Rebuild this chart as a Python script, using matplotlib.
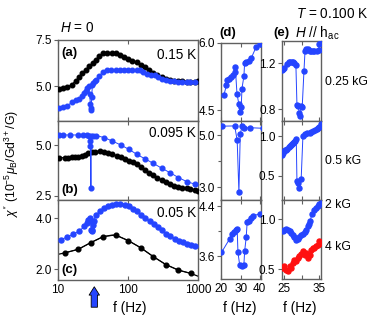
import matplotlib
matplotlib.use('Agg')
import matplotlib.pyplot as plt
from matplotlib.ticker import NullLocator, FixedLocator
from matplotlib.patches import FancyArrowPatch

plt.rcParams['font.family'] = ['Liberation Sans', 'DejaVu Sans']
plt.rcParams['mathtext.fontset'] = 'custom'
plt.rcParams['mathtext.rm'] = 'Liberation Sans'
plt.rcParams['mathtext.it'] = 'Liberation Sans:italic'
plt.rcParams['mathtext.bf'] = 'Liberation Sans:bold'

# ---------------- data ----------------
# panel (a) 0.15 K
a_black_f = [10.3, 11.9, 13.6, 15.7, 17.9, 20.0, 22.3, 24.8, 27.7, 31.3, 34.5, 38.5, 44.4, 50.7, 58.4, 66.7,
             76.9, 87.7, 101, 115, 133, 152, 175, 200, 230, 262, 303, 345, 398, 454, 524, 597, 689, 769, 906, 1000]
a_black_v = [4.82, 4.89, 4.95, 5.07, 5.29, 5.47, 5.69, 5.89, 6.07, 6.25, 6.43, 6.61, 6.78, 6.80, 6.81, 6.79,
             6.70, 6.58, 6.49, 6.38, 6.29, 6.16, 6.01, 5.85, 5.72, 5.58, 5.47, 5.36, 5.31, 5.29, 5.25, 5.25,
             5.23, 5.23, 5.23, 5.25]
a_blue_f = [10.3, 11.9, 13.6, 15.7, 17.9, 20.0, 22.0, 23.5, 25.0, 26.3, 27.5, 28.3, 29.0, 29.5, 29.8, 30.3,
            31.0, 32.0, 33.5, 35.0, 38.5, 44.0, 50.0, 58.0, 67.0, 77.0, 88.0, 101, 115, 133, 150, 165, 185,
            210, 240, 270, 303, 345, 398, 454, 524, 597, 689, 769, 906]
a_blue_v = [3.80, 3.85, 3.93, 4.11, 4.22, 4.30, 4.45, 4.60, 4.75, 4.90, 5.00, 4.55, 4.05, 3.80, 3.70, 4.40,
            5.05, 5.15, 5.25, 5.35, 5.55, 5.75, 5.85, 5.88, 5.87, 5.88, 5.88, 5.88, 5.88, 5.89, 5.85, 5.76,
            5.67, 5.62, 5.58, 5.49, 5.40, 5.31, 5.26, 5.25, 5.24, 5.23, 5.22, 5.22, 5.22]

# panel (b) 0.095 K
b_black_f = [10.5, 12.6, 14.1, 15.7, 17.5, 19.5, 21.8, 24.3, 27.1, 30.3, 33.8, 39.8, 45.9, 52.4, 59.7, 68.9,
             78.5, 90.6, 103, 117, 133, 152, 175, 200, 230, 262, 303, 345, 398, 454, 524, 597, 689, 769, 906, 1000]
b_black_v = [4.39, 4.39, 4.39, 4.41, 4.41, 4.42, 4.46, 4.52, 4.62, 4.65, 4.69, 4.72, 4.69, 4.61, 4.56, 4.49,
             4.42, 4.33, 4.23, 4.16, 4.08, 3.95, 3.78, 3.65, 3.54, 3.41, 3.29, 3.18, 3.09, 3.01, 2.96, 2.91,
             2.88, 2.85, 2.80, 2.75]
b_blue_f = [10.5, 11.9, 14.8, 19.5, 23.0, 26.0, 27.5, 28.5, 29.0, 29.5, 30.0, 31.6, 35.3, 45.9, 59.7, 78.5,
            103, 133, 175, 230, 303, 398, 524, 689, 906]
b_blue_v = [5.52, 5.51, 5.51, 5.51, 5.53, 5.52, 5.45, 5.20, 4.95, 2.90, 5.45, 5.48, 5.48, 5.38, 5.21, 5.02,
            4.80, 4.56, 4.33, 4.11, 3.87, 3.65, 3.41, 3.21, 3.08]

# panel (c) 0.05 K
c_black_f = [12.6, 19.5, 29.3, 44.4, 67.5, 101, 152, 230, 346, 523, 787]
c_black_v = [2.64, 2.78, 3.04, 3.28, 3.34, 3.12, 2.84, 2.49, 2.18, 1.96, 1.83]
c_fit_f = [10, 12.6, 19.5, 29.3, 44.4, 60, 67.5, 101, 152, 230, 346, 523, 787, 1000]
c_fit_v = [2.58, 2.64, 2.78, 3.04, 3.28, 3.34, 3.33, 3.12, 2.84, 2.49, 2.18, 1.96, 1.83, 1.72]
c_blue_f = [10.9, 13.6, 16.6, 20.0, 23.8, 25.7, 27.1, 28.6, 29.3, 29.8, 30.3, 31.0, 31.8, 32.5, 35.3, 39.4,
            45.4, 51.8, 59.0, 68.0, 77.6, 89.6, 102, 118, 134, 155, 177, 204, 233, 268, 306, 353, 403, 464,
            530, 611, 697, 803, 916]
c_blue_v = [3.16, 3.26, 3.38, 3.49, 3.68, 3.81, 3.95, 4.01, 3.88, 3.55, 3.49, 3.55, 3.75, 3.91, 4.14, 4.27,
            4.41, 4.47, 4.54, 4.56, 4.56, 4.54, 4.47, 4.38, 4.27, 4.14, 4.01, 3.88, 3.78, 3.64, 3.53, 3.39,
            3.29, 3.20, 3.12, 3.05, 2.99, 2.96, 2.89]

# panel (d) T = 0.100 K, zero field sweeps around 30 Hz
d1_f = [21.2, 22.6, 22.9, 24.0, 25.2, 26.0, 26.9, 27.2, 28.1, 29.1, 29.6, 30.3, 30.7, 31.7, 32.1, 32.9,
        34.6, 35.5, 38.0, 40.3]
d1_v = [4.83, 5.05, 5.16, 5.20, 5.23, 5.28, 5.35, 5.46, 4.86, 4.63, 4.46, 4.56, 4.98, 5.25, 5.55, 5.57,
        5.60, 5.65, 5.89, 5.97]
d2_f = [20.2, 26.9, 28.2, 29.1, 29.8, 30.7, 31.7, 35.0, 41.5]
d2_v = [5.35, 5.36, 4.80, 2.79, 5.03, 5.35, 5.29, 5.29, 5.27]
d3_f = [20.0, 24.3, 25.5, 26.5, 27.7, 28.2, 28.6, 29.5, 30.7, 31.7, 32.1, 32.9, 33.4, 34.3, 35.5, 36.7, 40.3]
d3_v = [3.66, 3.88, 3.95, 3.98, 4.02, 4.03, 3.66, 3.46, 3.45, 3.46, 3.68, 3.90, 4.14, 4.17, 4.21, 4.25, 4.28]

# panel (e) field parallel to h_ac
e1_f = [24.4, 24.8, 25.1, 25.8, 26.3, 26.7, 27.2, 27.7, 28.0, 28.4, 28.7, 29.0, 29.4, 29.6, 29.9, 30.2,
        30.7, 31.0, 31.3, 31.8, 32.3, 32.7, 33.2, 33.7, 34.4, 34.9, 35.1, 35.6]
e1_v = [1.14, 1.145, 1.16, 1.19, 1.21, 1.21, 1.21, 1.205, 1.20, 1.185, 0.84, 0.826, 0.77, 0.74, 0.826, 0.82,
        1.13, 1.30, 1.32, 1.32, 1.30, 1.30, 1.30, 1.30, 1.30, 1.31, 1.36, 1.38]
e2_f = [24.4, 24.7, 24.9, 25.3, 25.6, 25.9, 26.3, 26.6, 26.9, 27.2, 27.5, 27.8, 28.2, 28.5, 28.7, 29.1,
        29.4, 29.9, 30.4, 31.0, 31.6, 32.3, 32.8, 33.4, 33.9, 34.4, 34.7, 35.1, 35.6]
e2_v = [0.765, 0.786, 0.807, 0.82, 0.828, 0.841, 0.857, 0.87, 0.882, 0.899, 0.912, 0.924, 0.941, 0.966,
        0.43, 0.41, 0.336, 0.45, 0.996, 1.025, 1.038, 1.038, 1.045, 1.059, 1.08, 1.09, 1.10, 1.12, 1.15]
e3b_f = [24.7, 25.1, 25.6, 26.1, 26.6, 27.0, 27.5, 28.0, 28.5, 28.9, 29.4, 29.9, 30.4, 30.9, 31.3, 31.8,
         32.0, 32.5, 32.9, 33.7, 34.2, 34.7, 35.1, 35.6]
e3b_v = [0.88, 0.896, 0.906, 0.896, 0.88, 0.863, 0.84, 0.82, 0.796, 0.806, 0.82, 0.84, 0.853, 0.87, 0.896,
         0.93, 0.953, 0.98, 1.046, 1.086, 1.113, 1.13, 1.146, 1.163]
e3r_f = [24.7, 25.1, 25.6, 26.1, 26.6, 27.0, 27.5, 28.0, 28.5, 28.9, 29.4, 29.9, 30.4, 30.9, 31.3, 31.8,
         32.3, 32.8, 33.2, 33.7, 34.1, 34.6, 35.0, 35.6]
e3r_v = [0.513, 0.53, 0.496, 0.48, 0.53, 0.513, 0.563, 0.596, 0.58, 0.613, 0.63, 0.653, 0.68, 0.646, 0.663,
         0.613, 0.646, 0.696, 0.713, 0.713, 0.73, 0.746, 0.78, 0.763]

temps = ['0.15 K', '0.095 K', '0.05 K']
fields = ['0.25 kG', '0.5 kG', '2 kG', '4 kG']
arrow_f = 33

# ---------------- style ----------------
BLUE = '#2545ff'
RED = '#ff1010'
SPINE = '#606060'
W, H = 375, 325

fig = plt.figure(figsize=(W / 100, H / 100), dpi=100)


def box(x0, y0, x1, y1):
    return [x0 / W, 1 - y1 / H, (x1 - x0) / W, (y1 - y0) / H]


def fx(x, y):
    return x / W, 1 - y / H


def style(ax, yt, ylim, xt, xlim, log=False, xlabels=False, yminor=None):
    if log:
        ax.set_xscale('log')
    ax.set_xlim(*xlim)
    ax.set_ylim(*ylim)
    ax.xaxis.set_major_locator(FixedLocator(xt))
    ax.xaxis.set_minor_locator(NullLocator())
    if xlabels:
        ax.set_xticklabels([str(t) for t in xt])
    else:
        ax.set_xticklabels([])
    ax.yaxis.set_major_locator(FixedLocator(yt))
    ax.set_yticklabels(['%.1f' % t for t in yt])
    if yminor is not None:
        ax.yaxis.set_minor_locator(FixedLocator(yminor))
    else:
        ax.yaxis.set_minor_locator(NullLocator())
    ax.tick_params(axis='x', which='both', direction='in', top=True, length=3, width=0.8,
                   color=SPINE, labelsize=8.5, pad=3)
    ax.tick_params(axis='y', which='major', direction='out', length=3, width=0.8, color=SPINE,
                   labelsize=8.5, pad=1.5)
    ax.tick_params(axis='y', which='minor', direction='out', length=2, width=0.8, color=SPINE)
    for s in ax.spines.values():
        s.set_color(SPINE)
        s.set_linewidth(1.0)


def series(ax, f, v, color, ms=3.2, lw=0.7, line=True):
    ax.plot(f, v, '-' if line else 'none', color=color, lw=lw, marker='o', ms=ms, mec=color, mfc=color,
            zorder=3)


# left column
axa = fig.add_axes(box(58, 40, 198, 121))
axb = fig.add_axes(box(58, 121, 198, 200))
axc = fig.add_axes(box(58, 200, 198, 280))
style(axa, [5.0, 7.5], (3.1, 7.5), [10, 100, 1000], (10, 1000), log=True)
style(axb, [2.5, 5.0], (2.3, 6.2), [10, 100, 1000], (10, 1000), log=True)
style(axc, [2.0, 4.0], (1.57, 4.72), [10, 100, 1000], (10, 1000), log=True, xlabels=True)

series(axa, a_black_f, a_black_v, 'black', ms=3.3, lw=0.8)
series(axa, a_blue_f, a_blue_v, BLUE, ms=3.3)
series(axb, b_black_f, b_black_v, 'black', ms=3.3, lw=0.8)
series(axb, b_blue_f, b_blue_v, BLUE, ms=3.4)
axc.plot(c_fit_f, c_fit_v, '-', color='black', lw=0.9, zorder=2)
series(axc, c_black_f, c_black_v, 'black', ms=3.4, line=False)
series(axc, c_blue_f, c_blue_v, BLUE, ms=3.6, line=False)

# middle column (d)
dl, dr = 221.3, 261.3
axd1 = fig.add_axes(box(dl, 42.5, dr, 121))
axd2 = fig.add_axes(box(dl, 121, dr, 200))
axd3 = fig.add_axes(box(dl, 200, dr, 279.3))
dxl = (19.9, 40.8)
style(axd1, [4.5, 6.0], (4.26, 6.0), [20, 30, 40], dxl)
style(axd2, [3.0, 5.0], (2.5, 5.55), [20, 30, 40], dxl, yminor=[4.0])
style(axd3, [3.6, 4.4], (3.23, 4.5), [20, 30, 40], dxl, xlabels=True, yminor=[4.0])
series(axd1, d1_f, d1_v, BLUE, ms=3.6)
series(axd2, d2_f, d2_v, BLUE, ms=3.6)
series(axd3, d3_f, d3_v, BLUE, ms=3.6)

# right column (e)
el, er = 281.7, 321.3
axe1 = fig.add_axes(box(el, 41, er, 121))
axe2 = fig.add_axes(box(el, 121, er, 200))
axe3 = fig.add_axes(box(el, 200, er, 279.3))
exl = (24.35, 35.65)
style(axe1, [0.8, 1.2], (0.70, 1.39), [25, 30, 35], exl)
style(axe2, [0.5, 1.0], (0.19, 1.19), [25, 30, 35], exl)
style(axe3, [0.5, 1.0], (0.40, 1.19), [25, 30, 35], exl, xlabels=True)
axe3.set_xticklabels(['25', '', '35'])
series(axe1, e1_f, e1_v, BLUE, ms=3.6)
series(axe2, e2_f, e2_v, BLUE, ms=3.6)
series(axe3, e3b_f, e3b_v, BLUE, ms=3.6)
series(axe3, e3r_f, e3r_v, RED, ms=3.6)

# ---------------- texts ----------------
fs_big = 9.8
fig.text(*fx(60, 28), r'$H$ = 0', fontsize=fs_big, va='center', ha='left')
fig.text(*fx(296, 14), r'$T$ = 0.100 K', fontsize=fs_big, va='center', ha='left')
fig.text(*fx(295, 33), r'$H$ $//$ h$_{\rm ac}$', fontsize=fs_big, va='center', ha='left')
fig.text(*fx(219, 33), '(d)', fontsize=9.5, fontweight='bold', va='center', ha='left')
fig.text(*fx(273, 33), '(e)', fontsize=9.5, fontweight='bold', va='center', ha='left')

for (y, lab) in zip([82, 161, 205, 246.7], fields):
    fig.text(*fx(325, y), lab, fontsize=8.8, va='center', ha='left')

for (y, lab) in zip([54.7, 133, 213], temps):
    fig.text(*fx(196, y), lab, fontsize=9.8, va='center', ha='right')
for (y, lab) in zip([53, 190, 270], ['(a)', '(b)', '(c)']):
    fig.text(*fx(61, y), lab, fontsize=9.5, fontweight='bold', va='center', ha='left')

fig.text(*fx(130, 308), 'f (Hz)', fontsize=9.8, va='center', ha='center')
fig.text(*fx(240, 308), 'f (Hz)', fontsize=9.8, va='center', ha='center')
fig.text(*fx(300, 308), 'f (Hz)', fontsize=9.8, va='center', ha='center')
fig.text(*fx(12, 163), r"$\chi''$ (10$^{-5}$$\mu_{\rm B}$/Gd$^{3+}$/G)", fontsize=8.8,
         rotation=90, va='center', ha='center')

# arrow marking ~30 Hz
arr = FancyArrowPatch((arrow_f, 1 - 310 / H), (arrow_f, 1 - 284 / H),
                      transform=matplotlib.transforms.blended_transform_factory(axc.transData, fig.transFigure),
                      arrowstyle='simple,head_length=0.6,head_width=0.75,tail_width=0.45',
                      mutation_scale=10, fc=BLUE, ec='black', lw=0.6, clip_on=False)
fig.patches.append(arr)

fig.savefig('out.png', dpi=100)
